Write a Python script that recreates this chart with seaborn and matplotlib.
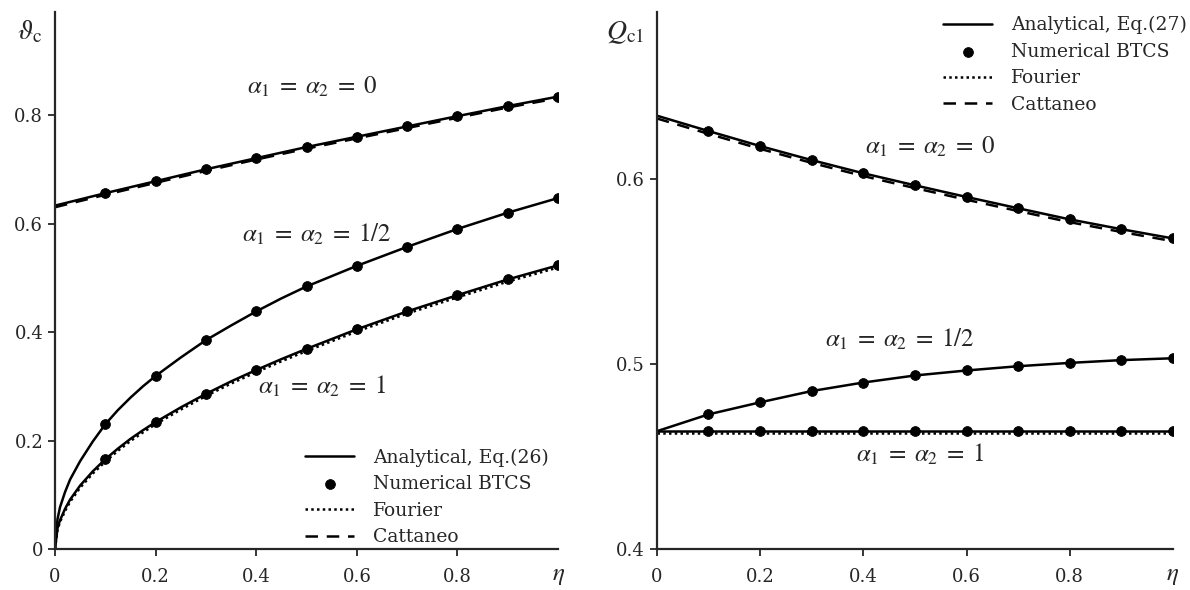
import matplotlib.pyplot as plt
import pandas as pd
import seaborn as sns

# eixos eta
eta_pts = [0.1, 0.2, 0.3, 0.4, 0.5, 0.6, 0.7, 0.8, 0.9, 1.0]
eta_lin = [0.0, 0.1, 0.2, 0.3, 0.4, 0.5, 0.6, 0.7, 0.8, 0.9, 1.0]
eta_fino = [0.0, 0.005, 0.01, 0.02, 0.03, 0.05, 0.075, 0.1, 0.125, 0.15, 0.175, 0.2, 0.25,
            0.3, 0.35, 0.4, 0.45, 0.5, 0.6, 0.7, 0.8, 0.9, 1.0]

# grafico da esquerda: theta_c
theta_a0 = [0.633, 0.656, 0.678, 0.700, 0.7205, 0.741, 0.760, 0.779, 0.798, 0.8165, 0.834]
theta_cat = [0.630, 0.653, 0.675, 0.697, 0.718, 0.738, 0.757, 0.776, 0.795, 0.814, 0.831]
theta_a05 = [0.0, 0.055, 0.077, 0.105, 0.128, 0.162, 0.198, 0.230, 0.256, 0.279, 0.300, 0.319, 0.353,
             0.385, 0.412, 0.438, 0.462, 0.484, 0.522, 0.557, 0.590, 0.620, 0.647]
theta_a1 = [0.0, 0.038, 0.053, 0.074, 0.091, 0.117, 0.143, 0.1655, 0.185, 0.203, 0.219, 0.234, 0.261,
            0.286, 0.309, 0.330, 0.350, 0.369, 0.405, 0.438, 0.468, 0.497, 0.523]
theta_four = [0.0, 0.035, 0.050, 0.070, 0.087, 0.113, 0.139, 0.161, 0.181, 0.199, 0.215, 0.230, 0.257,
              0.282, 0.305, 0.326, 0.346, 0.365, 0.401, 0.434, 0.464, 0.493, 0.519]
btcs_theta_a0 = [0.656, 0.678, 0.700, 0.7205, 0.741, 0.760, 0.779, 0.798, 0.8165, 0.834]
btcs_theta_a05 = [0.230, 0.319, 0.385, 0.438, 0.484, 0.522, 0.557, 0.590, 0.620, 0.647]
btcs_theta_a1 = [0.1655, 0.234, 0.286, 0.330, 0.369, 0.405, 0.438, 0.468, 0.497, 0.523]

# grafico da direita: Q_c1
q_a0 = [0.634, 0.6257, 0.6176, 0.610, 0.6029, 0.5964, 0.5901, 0.584, 0.578, 0.5727, 0.5677]
q_cat = [0.6325, 0.6242, 0.6161, 0.6085, 0.6014, 0.5949, 0.5886, 0.5825, 0.5765, 0.5712, 0.5662]
q_a05 = [0.4636, 0.4727, 0.4792, 0.4853, 0.4899, 0.4937, 0.4964, 0.4987, 0.5005, 0.502, 0.503]
q_a1 = [0.4636, 0.4636, 0.4636, 0.4636, 0.4636, 0.4636, 0.4636, 0.4636, 0.4636, 0.4636, 0.4636]
q_four = [0.4626, 0.4626, 0.4626, 0.4626, 0.4626, 0.4626, 0.4626, 0.4626, 0.4626, 0.4626, 0.4626]
btcs_q_a0 = q_a0[1:]
btcs_q_a05 = q_a05[1:]
btcs_q_a1 = q_a1[1:]

rotulos = ['Analytical, Eq.(26)', 'Analytical, Eq.(27)']
txt_alfa = [r'$\alpha_1\;=\;\alpha_2\;=\;0$', r'$\alpha_1\;=\;\alpha_2\;=\;1/2$',
            r'$\alpha_1\;=\;\alpha_2\;=\;1$']

sns.set_style('ticks')
plt.rcParams['font.family'] = ['DejaVu Serif']
plt.rcParams['mathtext.fontset'] = 'stix'
plt.rcParams['font.size'] = 13

fig = plt.figure(figsize=(11.9, 5.9), dpi=100)
ax1 = fig.add_axes([0.0462, 0.0695, 0.4228, 0.9102])
ax2 = fig.add_axes([0.552, 0.0695, 0.4337, 0.9102])

cor = 'black'
lw = 1.8


def desenha(ax, fino, a0, cat, a05, a1, four, b0, b05, b1, rot):
    sns.lineplot(x=fino, y=four, ax=ax, color=cor, lw=lw, label='Fourier_tmp')
    ax.lines[-1].set_dashes((1, 1.3))
    sns.lineplot(x=eta_lin, y=cat, ax=ax, color=cor, lw=lw, label='Cattaneo_tmp')
    ax.lines[-1].set_dashes((5, 3.5))
    sns.lineplot(x=eta_lin, y=a0, ax=ax, color=cor, lw=lw, label=rot)
    sns.lineplot(x=fino, y=a05, ax=ax, color=cor, lw=lw, label='_a')
    sns.lineplot(x=fino, y=a1, ax=ax, color=cor, lw=lw, label='_b')
    df = pd.DataFrame({'eta': eta_pts * 3, 'v': b0 + b05 + b1})
    sns.scatterplot(data=df, x='eta', y='v', ax=ax, color=cor, s=50, edgecolor=cor,
                    zorder=5, label='Numerical BTCS')


# esquerda
desenha(ax1, eta_fino, theta_a0, theta_cat, theta_a05, theta_a1, theta_four,
        btcs_theta_a0, btcs_theta_a05, btcs_theta_a1, rotulos[0])
# direita
desenha(ax2, eta_lin, q_a0, q_cat, q_a05, q_a1, q_four,
        btcs_q_a0, btcs_q_a05, btcs_q_a1, rotulos[1])

for ax, loc, ancora in [(ax1, 'lower right', (1.0, -0.012)), (ax2, 'upper right', (1.045, 1.01))]:
    h, l = ax.get_legend_handles_labels()
    d = dict(zip(l, h))
    ordem = [l[2], 'Numerical BTCS', 'Fourier_tmp', 'Cattaneo_tmp']
    ax.legend([d[k] for k in ordem], [ordem[0], 'Numerical BTCS', 'Fourier', 'Cattaneo'],
              loc=loc, bbox_to_anchor=ancora, frameon=False, handlelength=2.6,
              handletextpad=1.0, labelspacing=0.45, fontsize=13.5, borderaxespad=0.1)
    ax.set_xlim(0, 1)
    ax.set_xticks([0, 0.2, 0.4, 0.6, 0.8])
    ax.set_xticklabels(['0', '0.2', '0.4', '0.6', '0.8'])
    ax.set_xlabel('')
    ax.set_ylabel('')
    sns.despine(ax=ax)
    for s in ['left', 'bottom']:
        ax.spines[s].set_linewidth(1.6)
    ax.tick_params(direction='out', length=5, width=1.3, labelsize=13)
    ax.tick_params(axis='x', pad=9)
    ax.annotate(r'$\eta$', xy=(1, 0), xycoords='axes fraction', xytext=(0, -19),
                textcoords='offset points', ha='center', va='center', fontsize=18)

ax1.set_ylim(0, 0.99)
ax1.set_yticks([0, 0.2, 0.4, 0.6, 0.8])
ax1.set_yticklabels(['0', '0.2', '0.4', '0.6', '0.8'])
ax2.set_ylim(0.4, 0.69)
ax2.set_yticks([0.4, 0.5, 0.6])
ax2.set_yticklabels(['0.4', '0.5', '0.6'])

ax1.text(-0.025, 0.962, r'$\vartheta_{\mathrm{c}}$', transform=ax1.transAxes, ha='right',
         va='center', fontsize=20)
ax2.text(-0.025, 0.962, r'$Q_{\mathrm{c1}}$', transform=ax2.transAxes, ha='right',
         va='center', fontsize=20)

# anotacoes
ax1.text(0.51, 0.852, txt_alfa[0], ha='center', va='center', fontsize=18)
ax1.text(0.52, 0.58, txt_alfa[1], ha='center', va='center', fontsize=18)
ax1.text(0.53, 0.30, txt_alfa[2], ha='center', va='center', fontsize=18)
ax2.text(0.53, 0.617, txt_alfa[0], ha='center', va='center', fontsize=18)
ax2.text(0.47, 0.513, txt_alfa[1], ha='center', va='center', fontsize=18)
ax2.text(0.51, 0.451, txt_alfa[2], ha='center', va='center', fontsize=18)

plt.savefig('out.png', dpi=100)
